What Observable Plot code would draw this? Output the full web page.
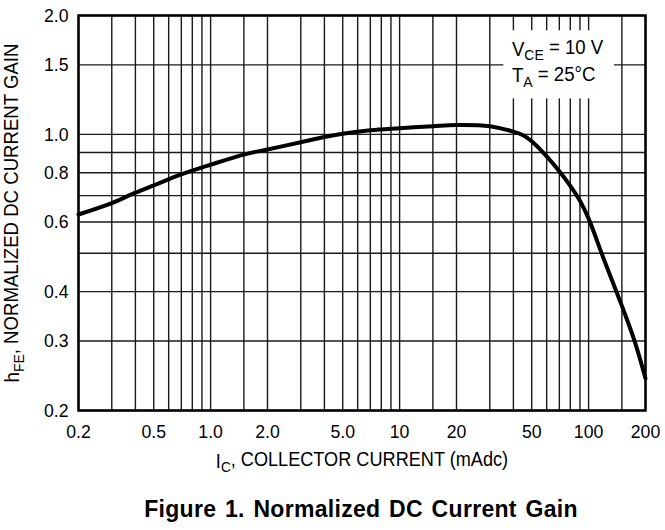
<!DOCTYPE html>
<html>
<head>
<meta charset="utf-8">
<script src="https://cdn.jsdelivr.net/npm/d3@7"></script>
<script src="https://cdn.jsdelivr.net/npm/@observablehq/plot@0.6"></script>
<style>
  html, body { margin: 0; padding: 0; background: #fff; }
  #chart svg { display: block; }
  #title { font-family: "Liberation Sans", Arial, sans-serif; font-weight: bold; font-size: 23px;
           letter-spacing: 0.3px; word-spacing: 2px;
           line-height: 38px; height: 40px; box-sizing: border-box; padding-left: 57px; text-align: center; color: #000; width: 665px; }
</style>
</head>
<body>
<div id="chart"></div>
<div id="title">Figure 1. Normalized DC Current Gain</div>
<script>
// Curve data (collector current mA, normalized hFE)
const ic  = [0.2, 0.3, 0.4, 0.5, 0.7, 1.0, 1.5, 2.0, 3.0, 4.0, 5.0, 7.0, 10, 15, 20, 30, 40, 45, 50, 60, 70, 80, 90, 100, 120, 150, 175, 200];
const hfe = [0.627, 0.670, 0.712, 0.743, 0.792, 0.838, 0.889, 0.916, 0.955, 0.985, 1.004, 1.025, 1.037, 1.049, 1.056, 1.049, 1.016, 0.995, 0.961, 0.88, 0.807, 0.741, 0.679, 0.612, 0.485, 0.368, 0.300, 0.241];

// Ticks and grid
const xTicks = [0.2, 0.5, 1, 2, 5, 10, 20, 50, 100, 200];
const xTickLabels = ["0.2", "0.5", "1.0", "2.0", "5.0", "10", "20", "50", "100", "200"];
const yTicks = [0.2, 0.3, 0.4, 0.6, 0.8, 1.0, 1.5, 2.0];
const yTickLabels = ["0.2", "0.3", "0.4", "0.6", "0.8", "1.0", "1.5", "2.0"];
const xGrid = [0.2, 0.3, 0.4, 0.5, 0.6, 0.7, 0.8, 0.9, 1, 1.5, 2, 3, 4, 5, 6, 7, 8, 9, 10, 15, 20, 30, 40, 50, 60, 70, 80, 90, 100, 150, 200];
const yGrid = [0.2, 0.3, 0.4, 0.5, 0.6, 0.7, 0.8, 0.9, 1.0, 1.5, 2.0];

// Axis titles: main letter, subscript, remainder
const xTitle = ["I", "C", ", COLLECTOR CURRENT (mAdc)"];
const yTitle = ["h", "FE", ", NORMALIZED DC CURRENT GAIN"];

// Annotation (test conditions)
const noteMain = ["V", "T"];
const noteSub = ["CE", "A"];
const noteRest = [" = 10 V", " = 25°C"];
const noteX = [39.3, 39.3];
const noteY = [1.64, 1.405];
const noteBox = [{x1: 35.6, x2: 137, y1: 1.23, y2: 1.83}];

const curve = ic.map((x, i) => ({x, y: hfe[i]}));
const notes = noteMain.map((m, i) => ({x: noteX[i], y: noteY[i], t: m + noteSub[i] + noteRest[i]}));
const xTitleStr = xTitle.join("");
const yTitleStr = yTitle.join("");

const FONT = '"Liberation Sans", Arial, Helvetica, sans-serif';

const chart = Plot.plot({
  width: 665,
  height: 490,
  marginLeft: 78,
  marginRight: 20,
  marginTop: 15,
  marginBottom: 80,
  style: {fontFamily: FONT, fontSize: "19px", color: "#000", background: "#fff"},
  x: {type: "log", domain: [0.2, 200], axis: null},
  y: {type: "log", domain: [0.2, 2], axis: null},
  marks: [
    Plot.ruleX(xGrid, {stroke: "#1a1a1a", strokeWidth: 1.4}),
    Plot.ruleY(yGrid, {stroke: "#1a1a1a", strokeWidth: 1.4}),
    Plot.rect(noteBox, {x1: "x1", x2: "x2", y1: "y1", y2: "y2", fill: "white"}),
    Plot.line(curve, {x: "x", y: "y", stroke: "black", strokeWidth: 4, curve: "catmull-rom"}),
    Plot.text(notes, {x: "x", y: "y", text: "t", textAnchor: "start", fontSize: 20, fill: "black"}),
    Plot.frame({stroke: "black", strokeWidth: 2.5}),
    // tick labels
    Plot.text(xTicks, {x: d => d, text: (d, i) => xTickLabels[i], frameAnchor: "bottom", lineAnchor: "middle", dy: 21.5, fill: "black"}),
    Plot.text(yTicks, {y: d => d, text: (d, i) => yTickLabels[i], frameAnchor: "left", lineAnchor: "middle", textAnchor: "end", dx: -10, fill: "black"}),
    // axis titles
    Plot.text([xTitleStr], {frameAnchor: "bottom", lineAnchor: "middle", textAnchor: "middle", dy: 51, fontSize: 19.5, fill: "black"}),
    Plot.text([yTitleStr], {frameAnchor: "left", lineAnchor: "middle", textAnchor: "middle", rotate: -90, dx: -65.5, fontSize: 20, fill: "black"})
  ]
});
document.getElementById("chart").appendChild(chart);

const svg = d3.select(chart);

// Subscripts
function subscriptify(sel, main, sub, rest) {
  sel.text(null);
  sel.append("tspan").text(main);
  sel.append("tspan").attr("dy", "0.3em").attr("font-size", "0.75em").text(sub);
  sel.append("tspan").attr("dy", "-0.3em").text(rest);
}
svg.selectAll("text").each(function() {
  const t = d3.select(this);
  const s = t.text();
  if (s === xTitleStr) subscriptify(t, xTitle[0], xTitle[1], xTitle[2]);
  else if (s === yTitleStr) subscriptify(t, yTitle[0], yTitle[1], yTitle[2]);
  else {
    const k = notes.findIndex(n => n.t === s);
    if (k >= 0) subscriptify(t, noteMain[k], noteSub[k], noteRest[k]);
  }
});

// Narrow (Helvetica-condensed-like) lettering: compress glyphs horizontally, anchors unchanged
const SX = 0.93;
svg.selectAll("text").each(function() {
  const L = this.getComputedTextLength();
  if (L > 0) {
    this.setAttribute("textLength", (L * SX).toFixed(2));
    this.setAttribute("lengthAdjust", "spacingAndGlyphs");
  }
});
</script>
</body>
</html>
